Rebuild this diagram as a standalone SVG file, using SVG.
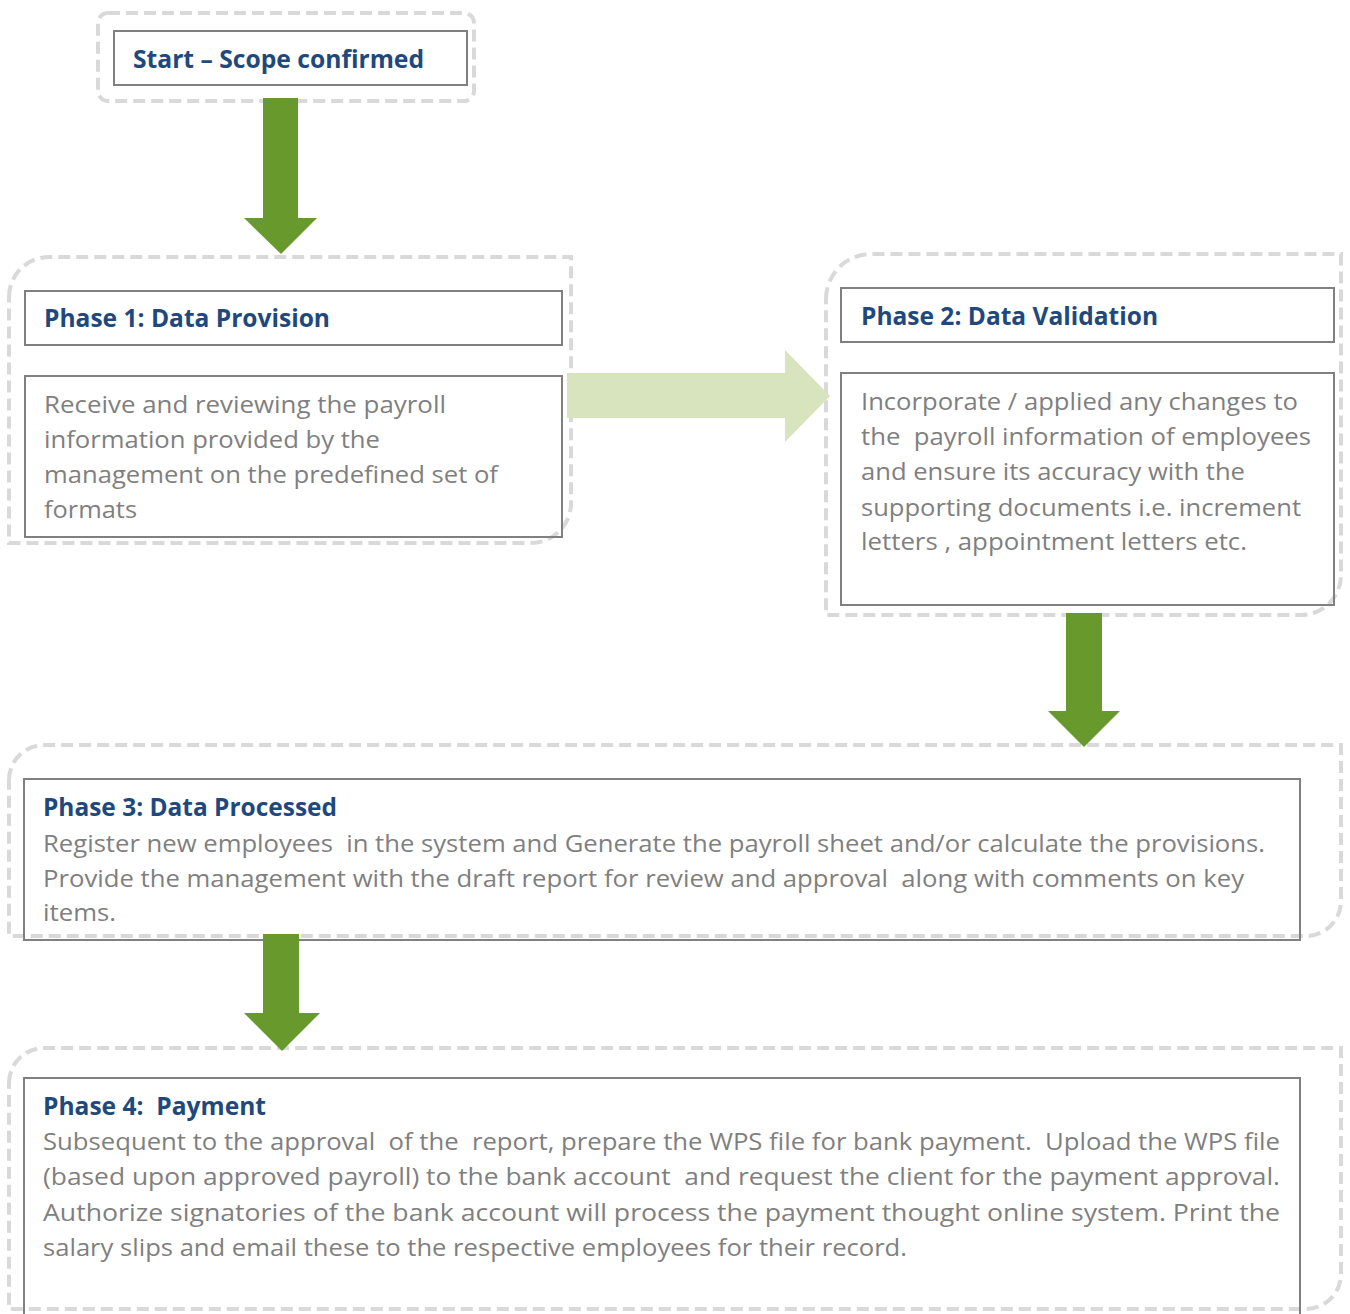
<svg xmlns="http://www.w3.org/2000/svg" width="1350" height="1314" viewBox="0 0 1350 1314">
<style>
.dash{fill:none;stroke:#D9D9D9;stroke-width:4;stroke-dasharray:12 6}
.box{fill:none;stroke:#808080;stroke-width:2}
.title{font-family:"Open Sans","Liberation Sans",sans-serif;font-weight:bold;font-size:25px;fill:#1F497D;white-space:pre}
.body{font-family:"Open Sans","Liberation Sans",sans-serif;font-size:24px;fill:#7F7F7F;white-space:pre}
.arrow{fill:#67992D}
.light{fill:#D7E4BD}
</style>
<rect x="0" y="0" width="1350" height="1314" fill="#FFFFFF"/>

<g id="start">
<rect class="dash" x="98" y="13" width="376" height="88" rx="10"/>
<rect class="box" x="114" y="31" width="353" height="54"/>
<text class="title" x="133" y="68" textLength="291" lengthAdjust="spacingAndGlyphs">Start – Scope confirmed</text>
</g>

<g id="phase1">
<path class="dash" d="M9,297 A40,40 0 0 1 49,257 H571 V503 A40,40 0 0 1 531,543 H9 Z"/>
<rect class="box" x="25" y="291" width="537" height="54"/>
<text class="title" x="44" y="327" textLength="286" lengthAdjust="spacingAndGlyphs">Phase 1: Data Provision</text>
<rect class="box" x="25" y="376" width="537" height="161"/>
<text class="body" x="44" y="413" textLength="402" lengthAdjust="spacingAndGlyphs">Receive and reviewing the payroll</text>
<text class="body" x="44" y="448" textLength="336" lengthAdjust="spacingAndGlyphs">information provided by the</text>
<text class="body" x="44" y="483" textLength="454" lengthAdjust="spacingAndGlyphs">management on the predefined set of</text>
<text class="body" x="44" y="518" textLength="93" lengthAdjust="spacingAndGlyphs">formats</text>
</g>

<g id="phase2">
<path class="dash" d="M826,299 A45,45 0 0 1 871,254 H1341 V575 A40,40 0 0 1 1301,615 H826 Z"/>
<rect class="box" x="841" y="288" width="493" height="54"/>
<text class="title" x="861" y="325" textLength="297" lengthAdjust="spacingAndGlyphs">Phase 2: Data Validation</text>
<rect class="box" x="841" y="373" width="493" height="232"/>
<text class="body" x="861" y="410" textLength="437" lengthAdjust="spacingAndGlyphs">Incorporate / applied any changes to</text>
<text class="body" x="861" y="445" textLength="450" lengthAdjust="spacingAndGlyphs">the  payroll information of employees</text>
<text class="body" x="861" y="480" textLength="384" lengthAdjust="spacingAndGlyphs">and ensure its accuracy with the</text>
<text class="body" x="861" y="516" textLength="440" lengthAdjust="spacingAndGlyphs">supporting documents i.e. increment</text>
<text class="body" x="861" y="550" textLength="386" lengthAdjust="spacingAndGlyphs">letters , appointment letters etc.</text>
</g>

<g id="phase3">
<path class="dash" d="M9,780 A35,35 0 0 1 44,745 H1341 V901 A35,35 0 0 1 1306,936 H9 Z"/>
<rect class="box" x="24" y="779" width="1276" height="161"/>
<text class="title" x="43" y="816" textLength="294" lengthAdjust="spacingAndGlyphs">Phase 3: Data Processed</text>
<text class="body" x="43" y="852" textLength="1222" lengthAdjust="spacingAndGlyphs">Register new employees  in the system and Generate the payroll sheet and/or calculate the provisions.</text>
<text class="body" x="43" y="887" textLength="1201" lengthAdjust="spacingAndGlyphs">Provide the management with the draft report for review and approval  along with comments on key</text>
<text class="body" x="43" y="921" textLength="73" lengthAdjust="spacingAndGlyphs">items.</text>
</g>

<g id="phase4">
<path class="dash" d="M9,1083 A35,35 0 0 1 44,1048 H1341 V1274 A35,35 0 0 1 1306,1309 H9 Z"/>
<rect class="box" x="24" y="1078" width="1276" height="250"/>
<text class="title" x="43" y="1115" textLength="223" lengthAdjust="spacingAndGlyphs">Phase 4:  Payment</text>
<text class="body" x="43" y="1150" textLength="1237" lengthAdjust="spacingAndGlyphs">Subsequent to the approval  of the  report, prepare the WPS file for bank payment.  Upload the WPS file</text>
<text class="body" x="43" y="1185" textLength="1237" lengthAdjust="spacingAndGlyphs">(based upon approved payroll) to the bank account  and request the client for the payment approval.</text>
<text class="body" x="43" y="1221" textLength="1237" lengthAdjust="spacingAndGlyphs">Authorize signatories of the bank account will process the payment thought online system. Print the</text>
<text class="body" x="43" y="1256" textLength="864" lengthAdjust="spacingAndGlyphs">salary slips and email these to the respective employees for their record.</text>
</g>

<g id="connectors">
<polygon class="arrow" points="263,98 298,98 298,218 317,218 281,254 244,218 263,218"/>
<polygon class="light" points="567,373 785,373 785,350 830,396 785,442 785,418 567,418"/>
<polygon class="arrow" points="1066,613 1102,613 1102,711 1120,711 1084,747 1048,711 1066,711"/>
<polygon class="arrow" points="263,934 299,934 299,1013 320,1013 282,1051 244,1013 263,1013"/>
</g>
</svg>
